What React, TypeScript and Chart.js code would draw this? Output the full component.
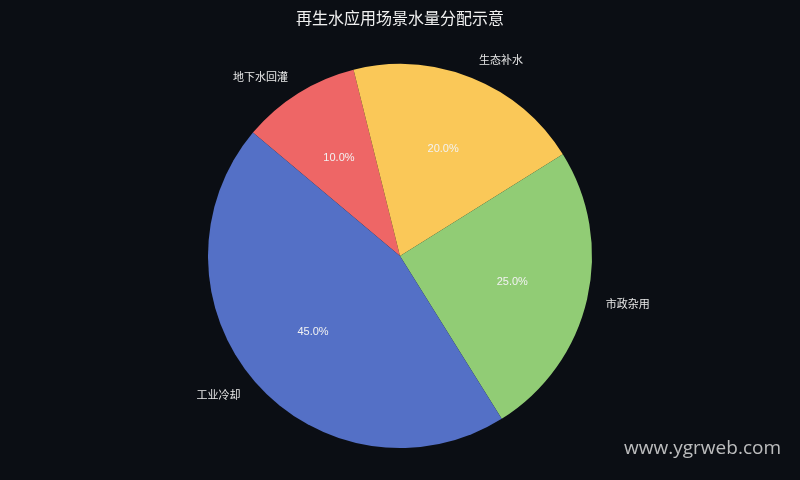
import React, { useEffect, useRef } from 'react';
import { Chart, registerables, Plugin } from 'chart.js';

Chart.register(...registerables);

// drawn clockwise from the upper-left, so the order is reversed from the legend
const categories = ['地下水回灌', '生态补水', '市政杂用', '工业冷却'];
const shares = [10, 20, 25, 45];
const sliceColors = ['#ee6666', '#fac858', '#91cc75', '#5470c6'];

const BG = '#0b0e14';
const CJK = '"Noto Sans CJK SC", "DejaVu Sans", sans-serif';

const labelPlugin: Plugin<'pie'> = {
    id: 'pieLabels',
    beforeDraw(chart) {
        const { ctx, width, height } = chart;
        ctx.save();
        ctx.fillStyle = BG;
        ctx.fillRect(0, 0, width, height);
        ctx.restore();
    },
    afterDraw(chart) {
        const { ctx } = chart;
        const meta = chart.getDatasetMeta(0);
        const total = shares.reduce((a, b) => a + b, 0);
        ctx.save();
        meta.data.forEach((arc: any, i: number) => {
            const { x, y, startAngle, endAngle, outerRadius } = arc.getProps(
                ['x', 'y', 'startAngle', 'endAngle', 'outerRadius'],
                true
            );
            const mid = (startAngle + endAngle) / 2;
            const cos = Math.cos(mid);
            const sin = Math.sin(mid);

            // percentage inside the slice
            ctx.font = '11px "Liberation Sans", Arial, sans-serif';
            ctx.fillStyle = '#f2f2f2';
            ctx.textAlign = 'center';
            ctx.textBaseline = 'middle';
            const pct = ((shares[i] / total) * 100).toFixed(1) + '%';
            ctx.fillText(pct, x + cos * outerRadius * 0.6, y + sin * outerRadius * 0.6);

            // category name outside
            ctx.font = '11px ' + CJK;
            ctx.fillStyle = '#e8e8e8';
            ctx.textAlign = cos >= 0 ? 'left' : 'right';
            ctx.fillText(categories[i], x + cos * outerRadius * 1.1, y + sin * outerRadius * 1.1);
        });

        // title
        ctx.font = '16px ' + CJK;
        ctx.fillStyle = '#f0f0f0';
        ctx.textAlign = 'center';
        ctx.textBaseline = 'middle';
        ctx.fillText('再生水应用场景水量分配示意', 400, 18);

        // watermark
        ctx.font = '19px "Open Sans", "Noto Sans", sans-serif';
        ctx.fillStyle = 'rgba(220,220,220,0.85)';
        ctx.textAlign = 'right';
        ctx.textBaseline = 'middle';
        ctx.fillText('www.ygrweb.com', 781, 449);
        ctx.restore();
    },
};

const App: React.FC = () => {
    const chartRef = useRef<HTMLCanvasElement | null>(null);

    useEffect(() => {
        document.body.style.margin = '0';
        document.body.style.background = BG;
        if (!chartRef.current) return;
        const ctx = chartRef.current.getContext('2d');
        if (!ctx) return;

        const chart = new Chart(ctx, {
            type: 'pie',
            data: {
                labels: categories,
                datasets: [
                    {
                        data: shares,
                        backgroundColor: sliceColors,
                        borderWidth: 0,
                    },
                ],
            },
            options: {
                responsive: false,
                animation: false,
                rotation: -50,
                layout: { padding: { top: 64, bottom: 32, left: 0, right: 0 } },
                plugins: {
                    legend: { display: false },
                    tooltip: { enabled: false },
                },
            },
            plugins: [labelPlugin],
        });

        return () => {
            chart.destroy();
        };
    }, []);

    return (
        <div style={{ width: 800, height: 480, background: BG }}>
            <canvas ref={chartRef} width={800} height={480}></canvas>
        </div>
    );
};

export default App;
